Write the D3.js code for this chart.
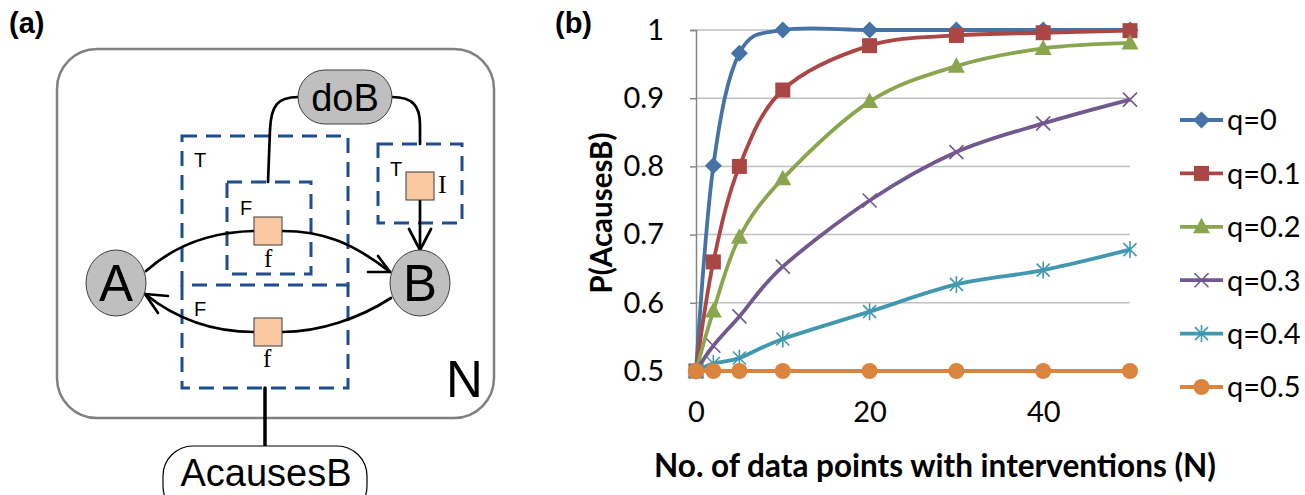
<!DOCTYPE html>
<html>
<head>
<meta charset="utf-8">
<script src="https://cdn.jsdelivr.net/npm/d3@7"></script>
<style>
  body { margin: 0; background: #fff; }
  svg { display: block; }
</style>
</head>
<body>
<script>
// ---- chart data (panel b) ----
var xValues = [0, 2, 5, 10, 20, 30, 40, 50];
var seriesNames = ["q=0", "q=0.1", "q=0.2", "q=0.3", "q=0.4", "q=0.5"];
var q00 = [0.5, 0.801, 0.966, 1.0, 1.0, 1.0, 1.0, 1.0];
var q01 = [0.5, 0.660, 0.800, 0.912, 0.977, 0.992, 0.996, 0.999];
var q02 = [0.5, 0.588, 0.696, 0.782, 0.895, 0.947, 0.973, 0.981];
var q03 = [0.5, 0.537, 0.580, 0.653, 0.750, 0.821, 0.863, 0.898];
var q04 = [0.5, 0.511, 0.519, 0.547, 0.587, 0.627, 0.648, 0.678];
var q05 = [0.5, 0.5, 0.5, 0.5, 0.5, 0.5, 0.5, 0.5];
var yTicks = [0.5, 0.6, 0.7, 0.8, 0.9, 1];
var xTicks = [0, 20, 40];

var colors = ["#4572A7", "#AA4643", "#89A54E", "#71588F", "#4198AF", "#DB843D"];
var markers = ["diamond", "square", "triangle", "x", "star", "circle"];

var svg = d3.select("body").append("svg")
    .attr("width", 1305)
    .attr("height", 495);

// ================= panel (a): factor graph =================
var ga = svg.append("g");
var sans = "'Liberation Sans', Arial, sans-serif";
var serif = "'Liberation Serif', 'Times New Roman', serif";
var navy = "#1F4E8C";

ga.append("text").attr("x", 9).attr("y", 33)
    .style("font-family", sans).style("font-weight", "bold").style("font-size", "29px")
    .text("(a)");

// plate N
ga.append("rect").attr("x", 57).attr("y", 49).attr("width", 437).attr("height", 369)
    .attr("rx", 40).attr("ry", 40)
    .attr("fill", "none").attr("stroke", "#808080").attr("stroke-width", 2.5);
ga.append("text").attr("x", 446).attr("y", 397)
    .style("font-family", sans).style("font-size", "51px").text("N");

// dashed gates
var dash = "15,9";
function gatePath(d) {
    ga.append("path").attr("d", d)
        .attr("fill", "none").attr("stroke", navy).attr("stroke-width", 3)
        .attr("stroke-dasharray", dash);
}
function gate(x, y, w, h) {
    gatePath("M" + x + "," + y + " h" + w + " v" + h + " h" + (-w) + " Z");
}
gate(182, 136, 166, 149);
gatePath("M182,285 V388 H348 V285");
gate(227, 182, 84, 92);
gate(378, 144, 84, 79);

function smallLabel(x, y, t) {
    ga.append("text").attr("x", x).attr("y", y)
        .style("font-family", sans).style("font-size", "20px").text(t);
}
smallLabel(194, 167, "T");
smallLabel(240, 215, "F");
smallLabel(194, 316, "F");
smallLabel(390, 176, "T");

// edges
function edge(d, w) {
    ga.append("path").attr("d", d).attr("fill", "none")
        .attr("stroke", "#000").attr("stroke-width", w || 2.7)
        .attr("stroke-linejoin", "round").attr("stroke-linecap", "round");
}
edge("M146,271 C175,245 210,232 254,231");
edge("M282,231 C322,231 352,242 390,272");
edge("M368,272 L390,272 L378,256");
edge("M391,298 C360,318 320,332 282,332");
edge("M254,332 C210,332 175,318 145,294");
edge("M168,296 L145,294 L158,313");
edge("M298,97 C278,97 271,105 270,130 L268,182");
edge("M392,97 C412,97 420,105 420,125 L420,144");
edge("M420,199 L420,250");
edge("M409,229 L420,250 L431,229");
edge("M265,388 L265,447", 3.5);

// factor squares
function factor(x, y) {
    ga.append("rect").attr("x", x).attr("y", y).attr("width", 28).attr("height", 28)
        .attr("fill", "#FAC9A1").attr("stroke", "#3a3a3a").attr("stroke-width", 1);
}
factor(254, 217);
factor(254, 318);
factor(406, 172);

function serifLabel(x, y, t, s) {
    ga.append("text").attr("x", x).attr("y", y)
        .style("font-family", serif).style("font-size", s + "px").text(t);
}
serifLabel(264, 267, "f", 25);
serifLabel(263, 367, "f", 25);
serifLabel(438, 193, "I", 26);

// variable nodes
function node(cx, cy, t) {
    ga.append("ellipse").attr("cx", cx).attr("cy", cy).attr("rx", 30).attr("ry", 33)
        .attr("fill", "#BFBFBF").attr("stroke", "#404040").attr("stroke-width", 1);
    ga.append("text").attr("x", cx).attr("y", cy + 18).attr("text-anchor", "middle")
        .style("font-family", sans).style("font-size", "51px").text(t);
}
node(116, 283, "A");
node(420, 283, "B");

ga.append("rect").attr("x", 298).attr("y", 70).attr("width", 94).attr("height", 54)
    .attr("rx", 27).attr("ry", 27)
    .attr("fill", "#BFBFBF").attr("stroke", "#404040").attr("stroke-width", 1);
ga.append("text").attr("x", 345).attr("y", 111).attr("text-anchor", "middle")
    .style("font-family", sans).style("font-size", "38px").text("doB");

ga.append("rect").attr("x", 163).attr("y", 446).attr("width", 204).attr("height", 70)
    .attr("rx", 30).attr("ry", 30)
    .attr("fill", "#fff").attr("stroke", "#000").attr("stroke-width", 1.2);
ga.append("text").attr("x", 266).attr("y", 486).attr("text-anchor", "middle")
    .style("font-family", sans).style("font-size", "38px").text("AcausesB");

// ================= panel (b): line chart =================
var font = "Lato, 'Open Sans', sans-serif";

var x = d3.scaleLinear().domain([0, 50]).range([696, 1130]);
var y = d3.scaleLinear().domain([0.5, 1]).range([371, 30]);

svg.append("text").attr("x", 555).attr("y", 33)
    .style("font-family", sans).style("font-weight", "bold").style("font-size", "29px")
    .text("(b)");

var gb = svg.append("g");

// gridlines
gb.selectAll("line.grid")
    .data(yTicks.slice(1))
    .enter().append("line")
    .attr("class", "grid")
    .attr("x1", x(0)).attr("x2", x(50))
    .attr("y1", function(d) { return y(d); })
    .attr("y2", function(d) { return y(d); })
    .attr("stroke", "#C0C0C0").attr("stroke-width", 1.5);

// axes
var yAxis = d3.axisLeft(y).tickValues(yTicks).tickSize(6).tickPadding(26)
    .tickFormat(function(d) { return d === 1 ? "1" : d3.format(".1f")(d); });
var yG = gb.append("g").attr("transform", "translate(" + x(0) + ",0)").call(yAxis);

var xAxis = d3.axisBottom(x).tickValues(xTicks).tickSize(5).tickPadding(30)
    .tickFormat(d3.format("d"));
var xG = gb.append("g").attr("transform", "translate(0," + y(0.5) + ")").call(xAxis);

[yG, xG].forEach(function(g) {
    g.select(".domain").attr("stroke", "#868686").attr("stroke-width", 1.5);
    g.selectAll(".tick line").attr("stroke", "#868686").attr("stroke-width", 1.5);
    g.selectAll(".tick text").attr("fill", "#000")
        .style("font-family", font).style("font-size", "29px");
});
xG.selectAll(".tick text").attr("dy", "0.55em");

// axis titles
gb.append("text")
    .attr("transform", "translate(612,213) rotate(-90)")
    .attr("text-anchor", "middle")
    .style("font-family", font).style("font-weight", "bold").style("font-size", "29.5px")
    .text("P(AcausesB)");
gb.append("text")
    .attr("x", 935).attr("y", 477)
    .attr("text-anchor", "middle")
    .style("font-family", font).style("font-weight", "bold").style("font-size", "31.5px")
    .text("No. of data points with interventions (N)");

// series
var seriesValues = [q00, q01, q02, q03, q04, q05];
var series = seriesNames.map(function(name, i) {
    return {
        name: name,
        color: colors[i],
        marker: markers[i],
        points: xValues.map(function(xv, j) { return { x: xv, y: seriesValues[i][j] }; })
    };
});

var line = d3.line()
    .x(function(d) { return x(d.x); })
    .y(function(d) { return y(d.y); })
    .curve(d3.curveCardinal.tension(0));

function drawMarker(g, type, color) {
    if (type === "diamond") {
        g.append("path").attr("d", "M0,-8.5 L8.5,0 L0,8.5 L-8.5,0 Z").attr("fill", color);
    } else if (type === "square") {
        g.append("rect").attr("x", -7.5).attr("y", -7.5).attr("width", 15).attr("height", 15)
            .attr("fill", color);
    } else if (type === "triangle") {
        g.append("path").attr("d", "M0,-9 L8.5,6.5 L-8.5,6.5 Z").attr("fill", color);
    } else if (type === "x") {
        g.append("path").attr("d", "M-7,-7 L7,7 M-7,7 L7,-7")
            .attr("stroke", color).attr("stroke-width", 1.6).attr("fill", "none");
    } else if (type === "star") {
        g.append("path").attr("d", "M-6.5,-6.5 L6.5,6.5 M-6.5,6.5 L6.5,-6.5 M0,-8.5 L0,8.5")
            .attr("stroke", color).attr("stroke-width", 1.6).attr("fill", "none");
    } else if (type === "circle") {
        g.append("circle").attr("r", 8).attr("fill", color);
    }
}

var sG = gb.selectAll("g.series")
    .data(series)
    .enter().append("g")
    .attr("class", "series");

sG.each(function(s) {
    var g = d3.select(this);
    g.append("path")
        .attr("d", line(s.points))
        .attr("fill", "none")
        .attr("stroke", s.color)
        .attr("stroke-width", 3.8)
        .attr("stroke-linejoin", "round");
    s.points.forEach(function(p) {
        var m = g.append("g").attr("transform", "translate(" + x(p.x) + "," + y(p.y) + ")");
        drawMarker(m, s.marker, s.color);
    });
});

// legend
var legend = gb.selectAll("g.legend")
    .data(series)
    .enter().append("g")
    .attr("class", "legend")
    .attr("transform", function(d, i) { return "translate(1180," + (120 + i * 53.4) + ")"; });

legend.append("line")
    .attr("x1", 0).attr("x2", 43).attr("y1", 0).attr("y2", 0)
    .attr("stroke", function(d) { return d.color; })
    .attr("stroke-width", 3.8);
legend.each(function(d) {
    var m = d3.select(this).append("g").attr("transform", "translate(21.5,0)");
    drawMarker(m, d.marker, d.color);
});
legend.append("text")
    .attr("x", 47).attr("y", 0).attr("dy", "0.36em")
    .style("font-family", font).style("font-size", "29px")
    .text(function(d) { return d.name; });
</script>
</body>
</html>
